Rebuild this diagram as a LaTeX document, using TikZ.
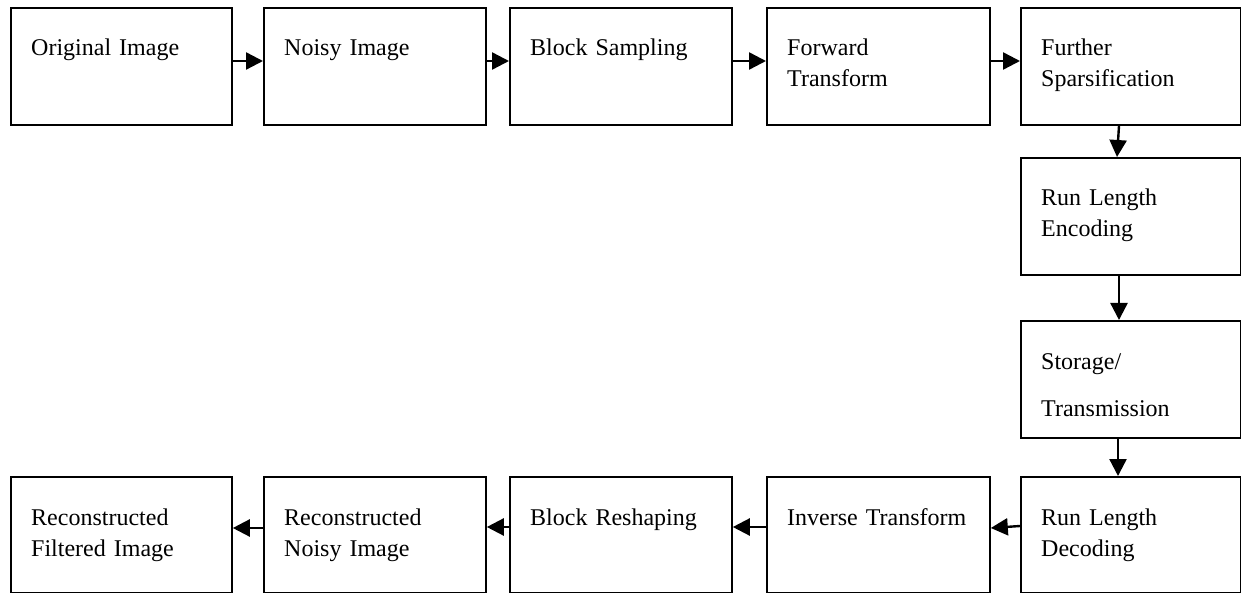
\documentclass[tikz,border=0pt]{standalone}
\usepackage{fontspec}
\setmainfont{Liberation Serif}
\usetikzlibrary{arrows.meta}
\tikzset{
  box/.style={draw, line width=1.8pt, rectangle, inner sep=0pt, anchor=north west},
  lbl/.style={anchor=base west, inner sep=0pt, text width=200pt, align=left,
              font=\fontsize{24}{31}\selectfont},
  arr/.style={line width=2.4pt, -{Triangle[length=17pt,width=17pt]}, shorten >=0pt}
}
\newcommand{\mkbox}[6]{%
  \node[box, minimum width=#4pt-#2pt, minimum height=#5pt-#3pt] (#1) at (#2,#3) {};
  \node[lbl] (#1t) at ([xshift=21pt,yshift=-49pt]#1.north west) {#6};
}
\begin{document}
\begin{tikzpicture}[x=1pt,y=-1pt]
\useasboundingbox (0,0) rectangle (1241,593);
% top row
\mkbox{a}{10}{7}{231}{124}{Original Image}
\mkbox{b}{263}{7}{485}{124}{Noisy Image}
\mkbox{c}{509}{7}{731}{124}{Block Sampling}
\mkbox{d}{766}{7}{989}{124}{Forward\\Transform}
\mkbox{e}{1020}{7}{1239.5}{124}{Further\\Sparsification}
% right column
\mkbox{f}{1020}{157}{1239.5}{274}{Run Length\\Encoding}
\mkbox{g}{1020}{320}{1239.5}{437}{Storage/\\[16pt]Transmission}
% bottom row
\mkbox{h}{1020}{476}{1239.5}{591.5}{Run Length\\Decoding}
\mkbox{i}{766}{476}{989}{591.5}{Inverse Transform}
\mkbox{j}{509}{476}{731}{591.5}{Block Reshaping}
\mkbox{k}{263}{476}{485}{591.5}{Reconstructed\\Noisy Image}
\mkbox{l}{10}{476}{231}{591.5}{Reconstructed\\Filtered Image}
% arrows
\draw[arr] (a.east |- 0,61) -- (b.west |- 0,61);
\draw[arr] (b.east |- 0,61) -- (c.west |- 0,61);
\draw[arr] (c.east |- 0,61) -- (d.west |- 0,61);
\draw[arr] (d.east |- 0,61) -- (e.west |- 0,61);
\draw[arr] (e.south -| 1119,0) -- (f.north -| 1117,0);
\draw[arr] (f.south -| 1119,0) -- (g.north -| 1119,0);
\draw[arr] (g.south -| 1118,0) -- (h.north -| 1118,0);
\draw[arr] (h.west |- 0,526) -- (i.east |- 0,528);
\draw[arr] (i.west |- 0,527) -- (j.east |- 0,527);
\draw[arr] (j.west |- 0,527) -- (k.east |- 0,527);
\draw[arr] (k.west |- 0,528) -- (l.east |- 0,528);
\end{tikzpicture}
\end{document}
